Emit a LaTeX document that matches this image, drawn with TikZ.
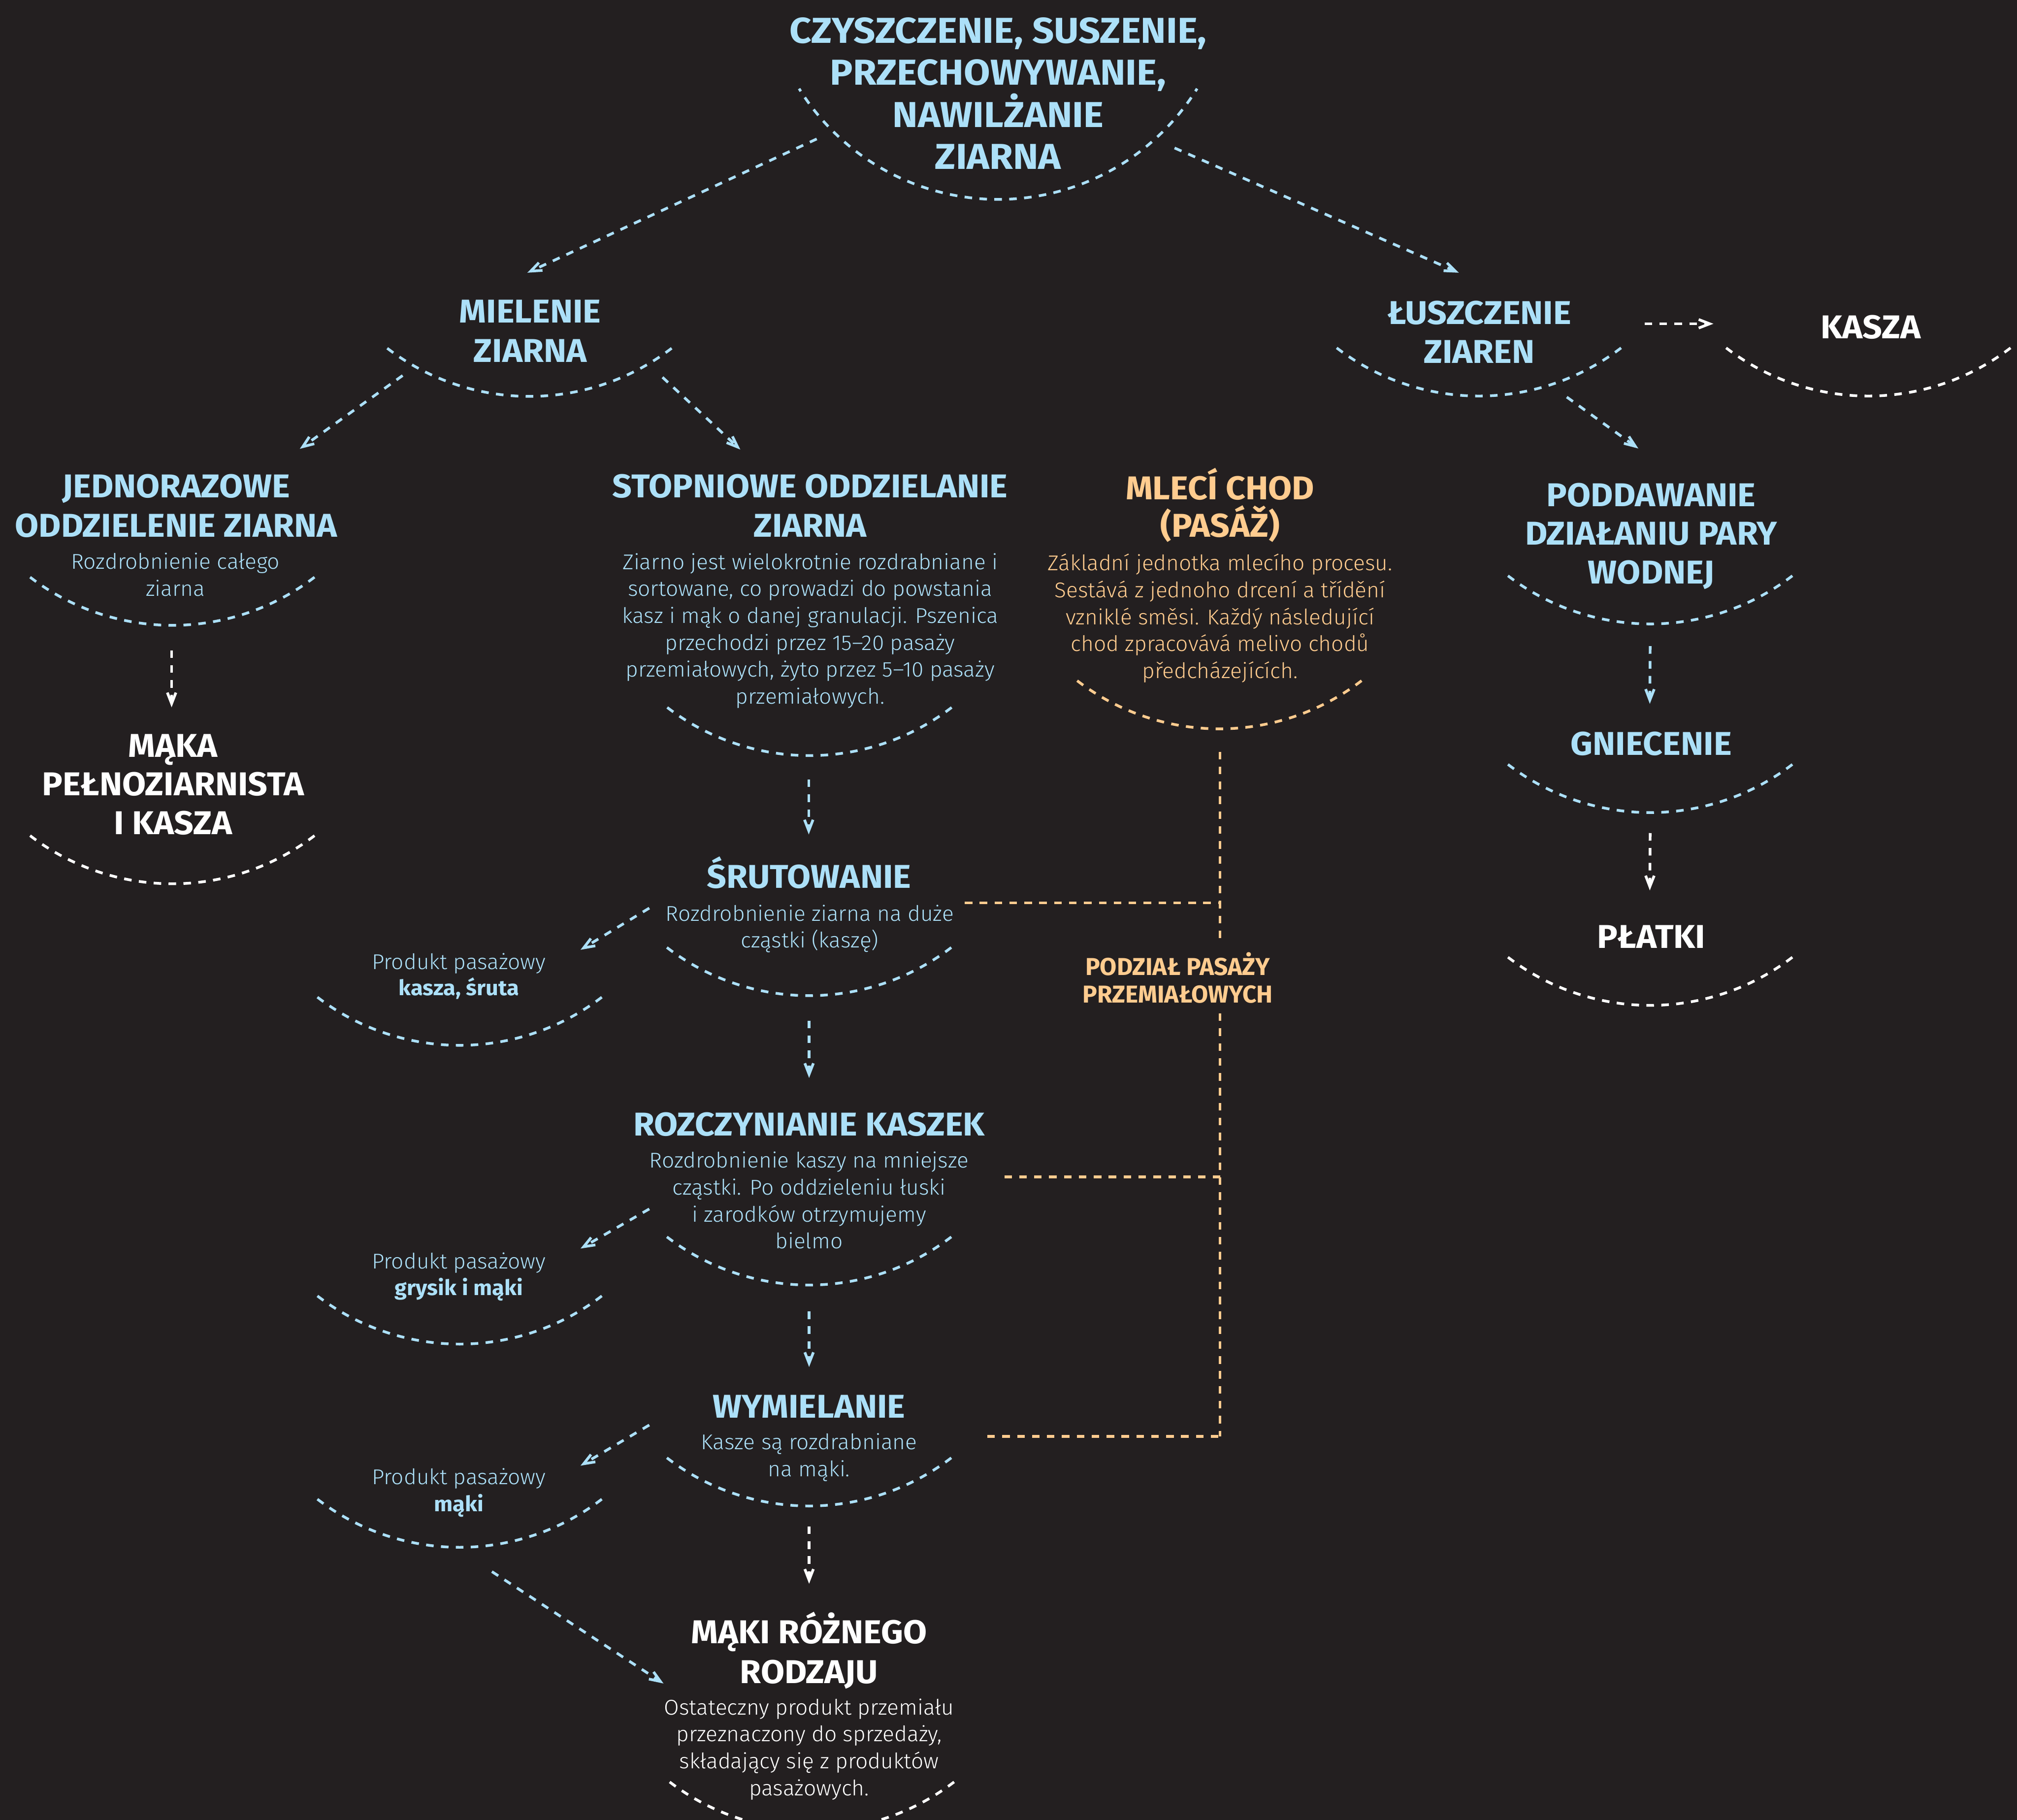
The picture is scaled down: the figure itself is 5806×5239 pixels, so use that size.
\documentclass[tikz,border=0pt]{standalone}
\usepackage{fontspec}
\setmainfont{Fira Sans}
\newfontfamily\lightfont{Fira Sans Light}[FakeStretch=1.02]
\newfontfamily\hfont{Fira Sans}[FakeStretch=1.04]
\newfontfamily\tfont{Fira Sans}[FakeStretch=1.06]
\usetikzlibrary{arrows.meta,calc}
\definecolor{bg}{RGB}{35,31,32}
\definecolor{cb}{RGB}{172,224,248}
\definecolor{co}{RGB}{255,204,143}
\newcommand\ctr[2]{\vtop{\baselineskip=#1\relax\lineskiplimit=-\maxdimen\halign{\hfil##\hfil\cr#2\crcr}}}
\newcommand\pb{\hfont\bfseries}
\newcommand\arcsm[3]{\draw[arcst,#3] (#1) arc[start angle=90,end angle=90+#2,radius=674] (#1) arc[start angle=90,end angle=90-#2,radius=674];}
\tikzset{
  hd/.style={inner sep=0pt, anchor=base, text=cb, font=\hfont\fontsize{27}{32}\selectfont\bfseries},
  bd/.style={inner sep=0pt, anchor=base, text=cb, font=\lightfont\fontsize{17.5}{22}\selectfont},
  lab/.style={inner xsep=0pt, inner ysep=8pt, anchor=base, fill=bg, text=co, font=\fontsize{20}{22.8}\selectfont\bfseries},
  dsh/.style={line width=2.2pt, dash pattern=on 6.2pt off 6pt},
  arcst/.style={dsh, dash phase=3.1pt},
  arr/.style={dsh, -{Straight Barb[length=9pt,width=7pt]}},
  od/.style={dsh, co},
}
\begin{document}
\begin{tikzpicture}[x=0.01cm,y=-0.01cm]
\useasboundingbox (0,0) rectangle (5806,5239);
\fill[bg] (0,0) rectangle (5806,5239);
\clip (0,0) rectangle (5806,5239);

% ---------- nodes ----------
\node[hd, font=\tfont\fontsize{29.5}{34}\selectfont\bfseries] (title) at (2873,124) {\ctr{34.4pt}{CZYSZCZENIE, SUSZENIE,\cr PRZECHOWYWANIE,\cr NAWILŻANIE\cr ZIARNA}};
\node[hd] (miel) at (1526,929) {\ctr{32.2pt}{MIELENIE\cr ZIARNA}};
\node[hd] (lusz) at (4258,933) {\ctr{32pt}{ŁUSZCZENIE\cr ZIAREN}};
\node[hd,text=white] (kasza) at (5385,975) {KASZA};
\node[hd] (podd) at (4753,1458) {\ctr{31.6pt}{PODDAWANIE\cr DZIAŁANIU PARY\cr WODNEJ}};
\node[hd] (gniec) at (4753,2174) {GNIECENIE};
\node[hd,text=white] (platki) at (4753,2729) {PŁATKI};
\node[hd] (jedn) at (507,1433) {\ctr{32.2pt}{JEDNORAZOWE\cr ODDZIELENIE ZIARNA}};
\node[bd] (jednb) at (505,1638) {\ctr{22.2pt}{Rozdrobnienie całego\cr ziarna}};
\node[hd,text=white] (maka) at (498,2179) {\ctr{31.6pt}{MĄKA\cr PEŁNOZIARNISTA\cr I KASZA}};
\node[hd] (stop) at (2332,1433) {\ctr{32.2pt}{STOPNIOWE ODDZIELANIE\cr ZIARNA}};
\node[bd] (stopb) at (2332,1639) {\ctr{22pt}{Ziarno jest wielokrotnie rozdrabniane i\cr sortowane, co prowadzi do powstania\cr kasz i mąk o danej granulacji. Pszenica\cr przechodzi przez 15–20 pasaży\cr przemiałowych, żyto przez 5–10 pasaży\cr przemiałowych.}};
\node[hd,text=co] (mlec) at (3512,1438) {\ctr{30.7pt}{MLECÍ CHOD\cr (PASÁŽ)}};
\node[bd,text=co] (mlecb) at (3512,1642) {\ctr{22.1pt}{Základní jednotka mlecího procesu.\cr Sestává z jednoho drcení a třídění\cr vzniklé směsi. Každý následující\cr chod zpracovává melivo chodů\cr předcházejících.}};
\node[hd] (srut) at (2329,2557) {ŚRUTOWANIE};
\node[bd] (srutb) at (2331,2652) {\ctr{21.6pt}{Rozdrobnienie ziarna na duże\cr cząstki (kaszę)}};
\node[bd] (prod1) at (1321,2790) {\ctr{21.6pt}{Produkt pasażowy\cr {\pb kasza, śruta}}};
\node[hd] (rozcz) at (2329,3269) {ROZCZYNIANIE KASZEK};
\node[bd] (rozczb) at (2329,3362) {\ctr{22pt}{Rozdrobnienie kaszy na mniejsze\cr cząstki. Po oddzieleniu łuski\cr i zarodków otrzymujemy\cr bielmo}};
\node[bd] (prod2) at (1321,3652) {\ctr{21.6pt}{Produkt pasażowy\cr {\pb grysik i mąki}}};
\node[hd] (wym) at (2329,4081) {WYMIELANIE};
\node[bd] (wymb) at (2329,4173) {\ctr{21.9pt}{Kasze są rozdrabniane\cr na mąki.}};
\node[bd] (prod3) at (1321,4273) {\ctr{22.1pt}{Produkt pasażowy\cr {\pb mąki}}};
\node[hd,text=white] (maki) at (2329,4731) {\ctr{32.7pt}{MĄKI RÓŻNEGO\cr RODZAJU}};
\node[bd,text=white] (makib) at (2329,4936) {\ctr{22pt}{Ostateczny produkt przemiału\cr przeznaczony do sprzedaży,\cr składający się z produktów\cr pasażowych.}};
\node[lab] (lab) at (3390,2807) {\ctr{22.8pt}{PODZIAŁ PASAŻY\cr PRZEMIAŁOWYCH}};

% ---------- arc bottoms ----------
\coordinate (title-b) at (2873,574);
\coordinate (miel-b) at (1524,1141);
\coordinate (lusz-b) at (4257,1140);
\coordinate (kasza-b) at (5378,1140);
\coordinate (podd-b) at (4750,1796);
\coordinate (gniec-b) at (4750,2339);
\coordinate (platki-b) at (4750,2894);
\coordinate (jedn-b) at (496,1800);
\coordinate (maka-b) at (496,2544);
\coordinate (stop-b) at (2330,2175);
\coordinate (mlec-b) at (3510,2098);
\coordinate (srut-b) at (2329,2866);
\coordinate (prod1-b) at (1323,3009);
\coordinate (rozcz-b) at (2329,3699);
\coordinate (prod2-b) at (1323,3869);
\coordinate (wym-b) at (2329,4335);
\coordinate (prod3-b) at (1323,4454);
\coordinate (maki-b) at (2337,5268);

\arcsm{title-b}{58.2}{cb}
\arcsm{miel-b}{37.5}{cb}
\arcsm{lusz-b}{37.5}{cb}
\arcsm{kasza-b}{37.5}{white}
\arcsm{podd-b}{37.5}{cb}
\arcsm{gniec-b}{37.5}{cb}
\arcsm{platki-b}{37.5}{white}
\arcsm{jedn-b}{37.5}{cb}
\arcsm{maka-b}{37.5}{white}
\arcsm{stop-b}{37.5}{cb}
\arcsm{mlec-b}{37.5}{co}
\arcsm{srut-b}{37.5}{cb}
\arcsm{prod1-b}{37.5}{cb}
\arcsm{rozcz-b}{37.5}{cb}
\arcsm{prod2-b}{37.5}{cb}
\arcsm{wym-b}{37.5}{cb}
\arcsm{prod3-b}{37.5}{cb}
\arcsm{maki-b}{37.5}{white}

% ---------- connectors ----------
\draw[arr,cb] ($(title-b)+(-522,-174)$) -- ($(miel.base)+(-8,-144)$);
\draw[arr,cb] ($(title-b)+(508,-148)$) -- ($(lusz.base)+(-59,-148)$);
\draw[arr,cb] ($(miel-b)+(-365,-60)$) -- ($(jedn.base)+(356,-141)$);
\draw[arr,cb] ($(miel-b)+(383,-55)$) -- ($(stop.base)+(-201,-139)$);
\draw[arr,white] ($(lusz.base)+(476,-1)$) -- ($(kasza.base)+(-453,-43)$);
\draw[arr,cb] ($(lusz-b)+(253,3)$) -- ($(podd.base)+(-37,-167)$);
\draw[arr,cb] ($(podd-b)+(0,64)$) -- ($(gniec.base)+(-4,-148)$);
\draw[arr,white] ($(gniec-b)+(0,59)$) -- ($(platki.base)+(-4,-166)$);
\draw[arr,white] ($(jedn-b)+(-2,72)$) -- ($(maka.base)+(-4,-143)$);
\draw[arr,cb] ($(stop-b)+(-2,69)$) -- ($(srut.base)+(-1,-155)$);
\draw[arr,cb] ($(srut.base)+(-460,57)$) -- ($(prod1.base)+(350,-56)$);
\draw[arr,cb] ($(srut-b)+(0,72)$) -- ($(rozcz.base)+(0,-166)$);
\draw[arr,cb] ($(rozczb.base)+(-460,118)$) -- ($(prod2.base)+(350,-58)$);
\draw[arr,cb] ($(rozcz-b)+(0,76)$) -- ($(wym.base)+(0,-146)$);
\draw[arr,cb] ($(wym.base)+(-460,21)$) -- ($(prod3.base)+(350,-54)$);
\draw[arr,white] ($(wym-b)+(0,59)$) -- ($(maki.base)+(0,-172)$);
\draw[arr,cb] ($(prod3-b)+(93,70)$) -- ($(maki.base)+(-419,115)$);

% orange passage lines
\coordinate (v0) at ($(mlec-b)+(2,66)$);
\coordinate (o1) at ($(srutb.base)+(446,-53)$);
\coordinate (o2) at ($(rozczb.base)+(562,26)$);
\coordinate (o3) at ($(wymb.base)+(513,-38)$);
\draw[od] (v0) -- (lab.north -| v0);
\draw[od] (lab.south -| v0) -- (o3 -| v0);
\draw[od] (o1) -- (o1 -| v0);
\draw[od] (o2) -- (o2 -| v0);
\draw[od] (o3) -- (o3 -| v0);
\end{tikzpicture}
\end{document}
